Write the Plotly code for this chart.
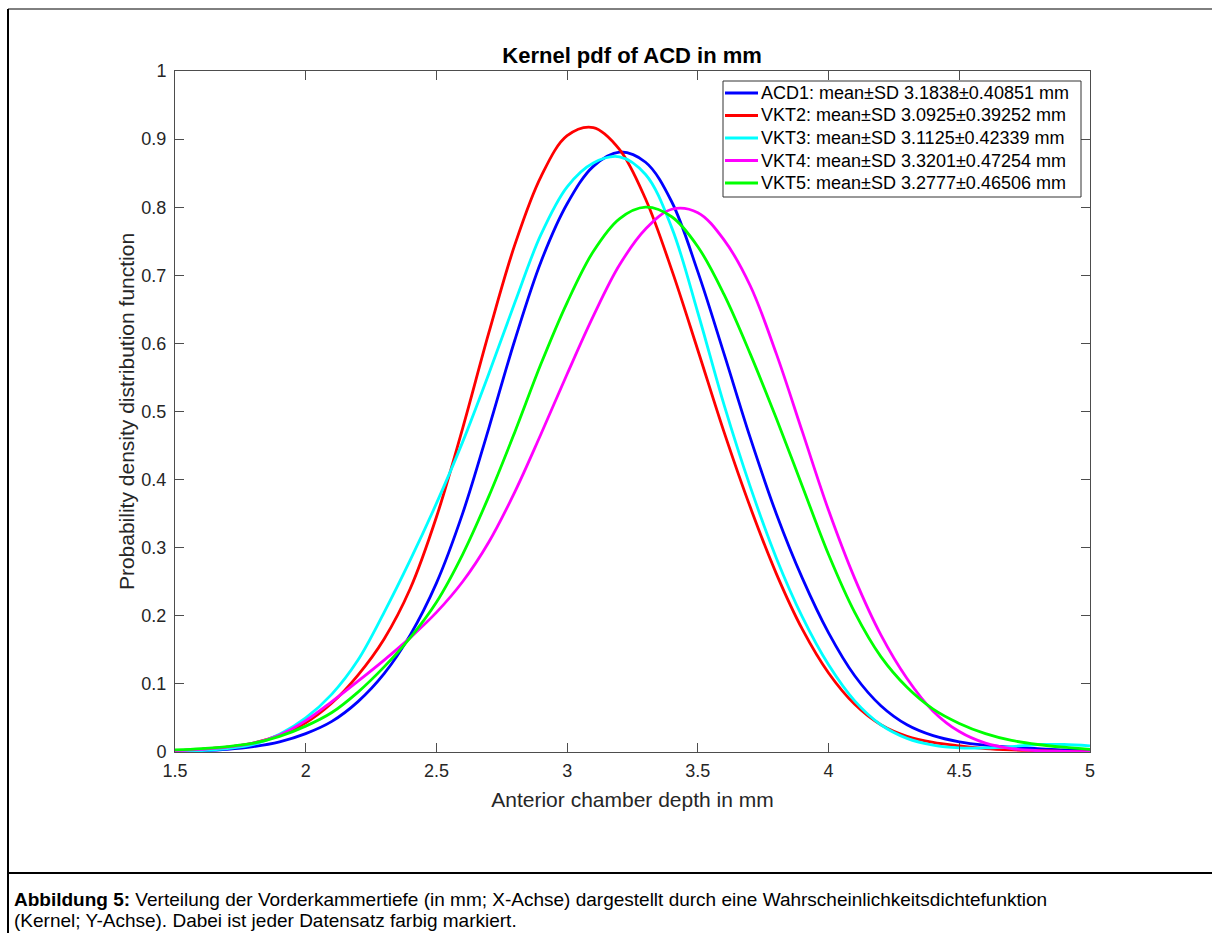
import plotly.graph_objects as go

# ---------------- data ----------------
x_vals = [1.5, 1.6, 1.7, 1.8, 1.9, 2.0, 2.1, 2.2, 2.3, 2.4, 2.5, 2.6, 2.7, 2.8, 2.9, 3.0,
          3.1, 3.2, 3.3, 3.4, 3.5, 3.6, 3.7, 3.8, 3.9, 4.0, 4.1, 4.2, 4.3, 4.4, 4.5,
          4.6, 4.7, 4.8, 4.9, 5.0]

acd1 = [0.001, 0.002, 0.004, 0.008, 0.015, 0.027, 0.045, 0.074, 0.115, 0.172, 0.248,
        0.35, 0.475, 0.605, 0.72, 0.805, 0.86, 0.881, 0.866, 0.808, 0.705, 0.585, 0.462,
        0.35, 0.255, 0.175, 0.112, 0.068, 0.04, 0.024, 0.015, 0.01, 0.007, 0.005, 0.003, 0.002]

vkt2 = [0.002, 0.004, 0.007, 0.013, 0.025, 0.043, 0.072, 0.113, 0.166, 0.24, 0.345,
        0.475, 0.615, 0.745, 0.845, 0.905, 0.917, 0.885, 0.812, 0.708, 0.59, 0.47, 0.36,
        0.262, 0.18, 0.116, 0.07, 0.04, 0.023, 0.014, 0.009, 0.005, 0.003, 0.002, 0.001, 0.0]

vkt3 = [0.001, 0.002, 0.005, 0.011, 0.026, 0.05, 0.085, 0.135, 0.205, 0.282, 0.365,
        0.455, 0.555, 0.66, 0.76, 0.83, 0.865, 0.874, 0.848, 0.77, 0.645, 0.51, 0.39,
        0.285, 0.198, 0.128, 0.075, 0.04, 0.02, 0.01, 0.006, 0.006, 0.008, 0.011, 0.011, 0.009]

vkt4 = [0.002, 0.004, 0.007, 0.013, 0.025, 0.046, 0.074, 0.104, 0.135, 0.168, 0.205,
        0.25, 0.308, 0.382, 0.467, 0.555, 0.64, 0.715, 0.768, 0.797, 0.792, 0.752, 0.685,
        0.585, 0.47, 0.355, 0.255, 0.172, 0.108, 0.06, 0.03, 0.013, 0.005, 0.002, 0.001, 0.0]

vkt5 = [0.003, 0.005, 0.008, 0.013, 0.023, 0.038, 0.058, 0.088, 0.125, 0.168, 0.22,
        0.29, 0.375, 0.47, 0.57, 0.66, 0.735, 0.783, 0.8, 0.786, 0.742, 0.672, 0.585,
        0.49, 0.39, 0.29, 0.205, 0.14, 0.095, 0.063, 0.042, 0.027, 0.017, 0.011, 0.007, 0.004]

series_names = [
    "ACD1: mean\u00b1SD 3.1838\u00b10.40851 mm",
    "VKT2: mean\u00b1SD 3.0925\u00b10.39252 mm",
    "VKT3: mean\u00b1SD 3.1125\u00b10.42339 mm",
    "VKT4: mean\u00b1SD 3.3201\u00b10.47254 mm",
    "VKT5: mean\u00b1SD 3.2777\u00b10.46506 mm",
]
series_values = [acd1, vkt2, vkt3, vkt4, vkt5]
series_colors = ["#0000FF", "#FF0000", "#00FFFF", "#FF00FF", "#00FF00"]

x_ticks = [1.5, 2, 2.5, 3, 3.5, 4, 4.5, 5]
x_ticklabels = ["1.5", "2", "2.5", "3", "3.5", "4", "4.5", "5"]
y_ticks = [0, 0.1, 0.2, 0.3, 0.4, 0.5, 0.6, 0.7, 0.8, 0.9, 1]
y_ticklabels = ["0", "0.1", "0.2", "0.3", "0.4", "0.5", "0.6", "0.7", "0.8", "0.9", "1"]

title_text = "<b>Kernel pdf of ACD in mm</b>"
x_title = "Anterior chamber depth in mm"
y_title = "Probability density distribution function"
caption1 = "<b>Abbildung 5:</b> Verteilung der Vorderkammertiefe (in mm; X-Achse) dargestellt durch eine Wahrscheinlichkeitsdichtefunktion"
caption2 = "(Kernel; Y-Achse). Dabei ist jeder Datensatz farbig markiert."

# ---------------- figure ----------------
FONT = "Liberation Sans, Arial, Helvetica, sans-serif"

# plot-area geometry in pixels (used only to place frame / legend / caption)
PL, PR, PT, PB = 175, 1090, 71, 752
PW, PH = PR - PL, PB - PT


def px(xpix):
    return (xpix - PL) / PW


def py(ypix):
    return (PB - ypix) / PH


fig = go.Figure()
for name, vals, col in zip(series_names, series_values, series_colors):
    fig.add_trace(go.Scatter(
        x=x_vals, y=vals, name=name, mode="lines", showlegend=False,
        line=dict(color=col, width=2.8, shape="spline", smoothing=1.0),
    ))

axis_common = dict(
    showgrid=False, zeroline=False, showline=True, linecolor="#4d4d4d", linewidth=1,
    ticks="inside", ticklen=9, tickcolor="#4d4d4d", mirror="ticks",
    tickfont=dict(family=FONT, size=18, color="#262626"),
)

fig.update_xaxes(range=[1.5, 5], tickvals=x_ticks, ticktext=x_ticklabels,
                 ticklabelstandoff=2,
                 title=dict(text=x_title, font=dict(family=FONT, size=21, color="#262626"), standoff=12),
                 **axis_common)
fig.update_yaxes(range=[0, 1], tickvals=y_ticks, ticktext=y_ticklabels,
                 ticklabelstandoff=4,
                 title=dict(text=y_title, font=dict(family=FONT, size=21, color="#262626"), standoff=1),
                 **axis_common)

fig.update_layout(
    width=1212, height=933,
    margin=dict(l=PL, r=1212 - PR, t=PT, b=933 - PB, autoexpand=False),
    paper_bgcolor="white", plot_bgcolor="white",
    font=dict(family=FONT, color="#262626"),
    title=dict(text=title_text, x=0.5215, xanchor="center", y=0.941, yanchor="middle",
               font=dict(family=FONT, size=22, color="black")),
    showlegend=False,
)

# ---- legend drawn as box + sample lines + texts ----
LEG_L, LEG_R, LEG_T, LEG_B = 723, 1081, 81, 197
fig.add_shape(type="rect", xref="paper", yref="paper",
              x0=px(LEG_L), x1=px(LEG_R), y0=py(LEG_B), y1=py(LEG_T),
              line=dict(color="#333333", width=1), fillcolor="white", layer="above")
row0, row_step = 93, 22.5
for i, (name, col) in enumerate(zip(series_names, series_colors)):
    yy = py(row0 + i * row_step)
    fig.add_shape(type="line", xref="paper", yref="paper",
                  x0=px(725), x1=px(758), y0=yy, y1=yy,
                  line=dict(color=col, width=2.8), layer="above")
    fig.add_annotation(text=name, xref="paper", yref="paper", x=px(759), y=yy,
                       xanchor="left", yanchor="middle", showarrow=False,
                       font=dict(family=FONT, size=18, color="black"))

# ---- page frame lines ----
fig.add_shape(type="line", xref="paper", yref="paper", x0=px(8), x1=px(1212), y0=py(9), y1=py(9),
              line=dict(color="black", width=1))
fig.add_shape(type="line", xref="paper", yref="paper", x0=px(8), x1=px(8), y0=py(9), y1=py(940),
              line=dict(color="black", width=2))
fig.add_shape(type="line", xref="paper", yref="paper", x0=px(8), x1=px(1212), y0=py(873), y1=py(873),
              line=dict(color="black", width=2))

# ---- caption ----
fig.add_annotation(text=caption1, xref="paper", yref="paper",
                   x=px(12), y=py(900), xanchor="left", yanchor="middle",
                   showarrow=False, font=dict(family=FONT, size=19, color="black"))
fig.add_annotation(text=caption2, xref="paper", yref="paper",
                   x=px(12), y=py(920), xanchor="left", yanchor="middle",
                   showarrow=False, font=dict(family=FONT, size=19, color="black"))

fig.write_html("out.html")
